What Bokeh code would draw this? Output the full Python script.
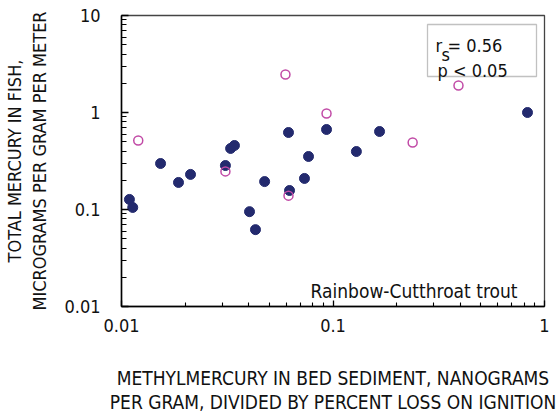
import math
from bokeh.plotting import figure
from bokeh.models import Label, FixedTicker, CustomJSTickFormatter, BoxAnnotation
from bokeh.embed import file_html
from bokeh.resources import INLINE

# Data
filled_x = [0.0109, 0.0113, 0.0153, 0.0186, 0.0212, 0.0310, 0.0328, 0.0342, 0.0403,
            0.0430, 0.0475, 0.0616, 0.0623, 0.0733, 0.0766, 0.0932, 0.129, 0.166, 0.831]
filled_y = [0.127, 0.105, 0.298, 0.190, 0.230, 0.284, 0.426, 0.457, 0.095,
            0.062, 0.194, 0.622, 0.157, 0.209, 0.352, 0.668, 0.396, 0.637, 1.0]
open_x = [0.0120, 0.0310, 0.0596, 0.0616, 0.0932, 0.238, 0.392]
open_y = [0.514, 0.247, 2.46, 0.139, 0.977, 0.491, 1.90]

x_ticks = [0.01, 0.1, 1]
x_tick_labels = ["0.01", "0.1", "1"]
y_ticks = [0.01, 0.1, 1, 10]
y_tick_labels = ["0.01", "0.1", "1", "10"]

x_title = "METHYLMERCURY IN BED SEDIMENT, NANOGRAMS\nPER GRAM, DIVIDED BY PERCENT LOSS ON IGNITION"
y_title = "TOTAL MERCURY IN FISH,\nMICROGRAMS PER GRAM PER METER"

FONT = "DejaVu Sans Condensed, Roboto, sans-serif"

W, H = 559, 416
FL, FT, FW, FH = 121, 15, 423, 291   # frame left/top/width/height in page px

p = figure(width=W, height=H, x_axis_type="log", y_axis_type="log",
           x_range=(0.01, 1), y_range=(0.01, 10),
           output_backend="svg", toolbar_location=None,
           min_border_left=FL, min_border_top=FT,
           min_border_right=W - FL - FW, min_border_bottom=H - FT - FH)
p.frame_width = FW
p.frame_height = FH
p.grid.visible = False
p.background_fill_color = "white"
p.border_fill_color = "white"
p.outline_line_color = "#444444"
p.outline_line_width = 1.3

minor_x = [m * d for d in (0.01, 0.1) for m in range(2, 10)]
minor_y = [m * d for d in (0.01, 0.1, 1) for m in range(2, 10)]

fmt_code = """
    const tk = %s;
    const lb = %s;
    for (let i = 0; i < tk.length; i++) {
        if (Math.abs(Math.log10(tick) - Math.log10(tk[i])) < 1e-6) return lb[i];
    }
    return '';
"""
for ax, tks, labels, minor in ((p.xaxis[0], x_ticks, x_tick_labels, minor_x),
                               (p.yaxis[0], y_ticks, y_tick_labels, minor_y)):
    ax.ticker = FixedTicker(ticks=tks, minor_ticks=minor)
    ax.formatter = CustomJSTickFormatter(code=fmt_code % (list(tks), list(labels)))
    ax.axis_line_color = "black"
    ax.axis_line_width = 1.5
    ax.major_tick_line_color = "black"
    ax.minor_tick_line_color = "black"
    ax.major_tick_line_width = 1.3
    ax.minor_tick_line_width = 1.1
    ax.major_tick_out = 0
    ax.minor_tick_out = 0
    ax.major_label_text_font = FONT
    ax.major_label_text_font_size = "18px"
    ax.major_label_text_color = "#111111"
    ax.axis_label_text_font = FONT
    ax.axis_label_text_font_size = "18px"
    ax.axis_label_text_font_style = "normal"
    ax.axis_label_text_color = "#111111"

p.xaxis[0].axis_label = x_title
p.xaxis[0].axis_label_text_font_size = "19px"
p.xaxis[0].axis_label_text_line_height = 1.12
p.yaxis[0].axis_label = y_title
p.yaxis[0].major_tick_in = 7
p.yaxis[0].minor_tick_in = 5
p.xaxis[0].major_tick_in = 6
p.xaxis[0].minor_tick_in = 4
p.yaxis[0].major_label_standoff = 21
p.xaxis[0].major_label_standoff = 12
p.xaxis[0].axis_label_standoff = 32
p.yaxis[0].axis_label_standoff = 11

p.scatter(filled_x, filled_y, size=10, marker="circle",
          fill_color="#232a6e", line_color="#232a6e")
p.scatter(open_x, open_y, size=9, marker="circle",
          fill_color=None, line_color="#c14aa6", line_width=1.5)

# screen units are relative to the frame's bottom-left corner
def sx(page_x):
    return page_x - FL
def sy(page_y):
    return (FT + FH) - page_y

def lab(x, y, text, size="18px", align="left"):
    p.add_layout(Label(x=sx(x), y=sy(y), x_units="screen", y_units="screen", text=text,
                       text_font=FONT, text_font_size=size, text_color="#111111",
                       text_align=align, text_baseline="alphabetic"))

# species label
lab(517, 290, "Rainbow-Cutthroat trout", size="19px", align="right")

# stats box
p.add_layout(BoxAnnotation(left=sx(427), right=sx(536), top=sy(24), bottom=sy(76),
                           left_units="screen", right_units="screen",
                           top_units="screen", bottom_units="screen",
                           fill_color="white", fill_alpha=1.0,
                           line_color="#333333", line_width=1.3))
lab(435, 45, "r")
lab(441, 54, "s")
lab(447, 45, "= 0.56")
lab(437, 70, "p < 0.05")

open("out.html", "w").write(file_html(p, INLINE))
